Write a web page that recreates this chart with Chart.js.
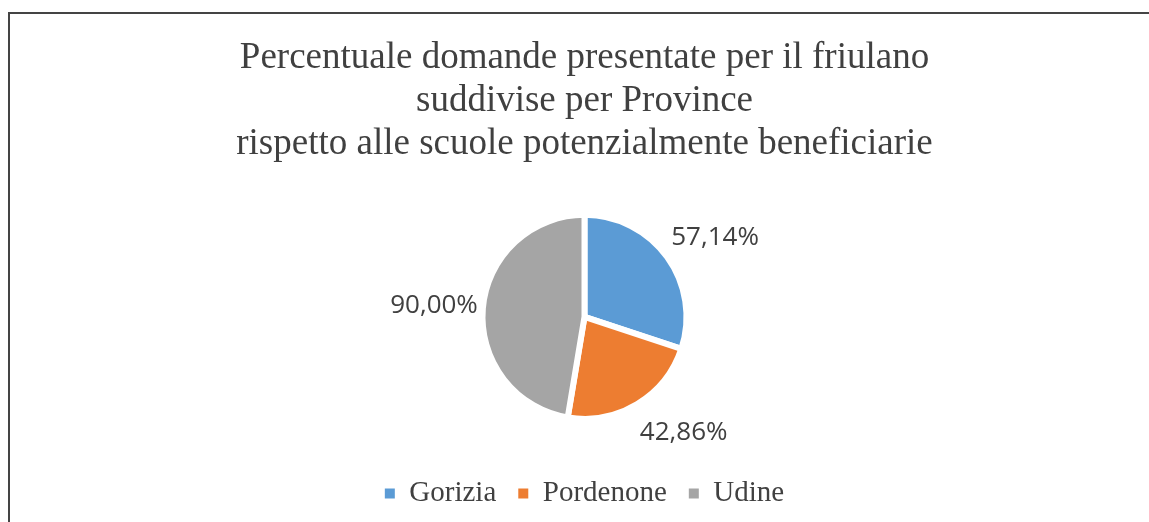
<!DOCTYPE html>
<html>
<head>
<meta charset="utf-8">
<script src="https://cdn.jsdelivr.net/npm/chart.js@4/dist/chart.umd.min.js"></script>
<style>
  html, body { margin: 0; padding: 0; background: #fff; overflow: hidden; width: 1149px; height: 522px; }
  #box { position: absolute; left: 8px; top: 12px; width: 1160px; height: 530px;
         border-left: 2px solid #444; border-top: 2px solid #444; }
  #wrap { position: absolute; left: 0; top: 0; width: 1149px; height: 504px; }
</style>
</head>
<body>
<div id="box"><div id="wrap"><canvas id="chart"></canvas></div></div>
<script>
/*************** Data ****************/
var provinces = ["Gorizia", "Pordenone", "Udine"];
var percentages = [57.14, 42.86, 90.00];
var sliceColors = ["#5B9BD5", "#ED7D31", "#A5A5A5"];
var titleLines = [
    "Percentuale domande presentate per il friulano",
    "suddivise per Province",
    "rispetto alle scuole potenzialmente beneficiarie"
];

function formatPct(v) {
    return v.toFixed(2).replace(".", ",") + "%";
}

/*************** Labels outside the slices ****************/
var sliceLabels = {
    id: "sliceLabels",
    afterDatasetsDraw: function (chart) {
        var ctx = chart.ctx;
        var meta = chart.getDatasetMeta(0);
        ctx.save();
        ctx.font = '26px "Open Sans"';
        ctx.fillStyle = "#404040";
        ctx.textBaseline = "middle";
        meta.data.forEach(function (arc, i) {
            var p = arc.getProps(["x", "y", "startAngle", "endAngle", "outerRadius"], true);
            var mid = (p.startAngle + p.endAngle) / 2;
            var dx = Math.cos(mid), dy = Math.sin(mid);
            var d = p.outerRadius + 5; // anchor just outside the slice
            ctx.textAlign = dx >= 0 ? "left" : "right";
            ctx.fillText(formatPct(percentages[i]), p.x + dx * d, p.y + dy * (d + 28));
        });
        ctx.restore();
    }
};

/*************** Creating chart ****************/
var chart = new Chart(document.getElementById("chart"), {
    type: "pie",
    data: {
        labels: provinces,
        datasets: [{
            data: percentages,
            backgroundColor: sliceColors,
            borderColor: "#ffffff",
            borderWidth: 6
        }]
    },
    options: {
        responsive: true,
        maintainAspectRatio: false,
        animation: false,
        radius: 102,
        layout: { padding: 0 },
        plugins: {
            tooltip: { enabled: false },
            title: {
                display: true,
                text: titleLines,
                color: "#404040",
                font: { family: '"Liberation Serif", "Times New Roman", serif', size: 37, weight: "normal", lineHeight: 1.15 },
                padding: { top: 23.5, bottom: 11.5 }
            },
            legend: {
                position: "bottom",
                labels: {
                    color: "#404040",
                    font: { family: '"Liberation Serif", "Times New Roman", serif', size: 29 },
                    boxWidth: 10,
                    boxHeight: 10,
                    padding: 22,
                    generateLabels: function (c) {
                        var items = Chart.overrides.doughnut.plugins.legend.labels.generateLabels(c);
                        return items.map(function (it) {
                            it.lineWidth = 0;
                            it.strokeStyle = "rgba(0,0,0,0)";
                            return it;
                        });
                    }
                }
            }
        }
    },
    plugins: [sliceLabels]
});
</script>
</body>
</html>
